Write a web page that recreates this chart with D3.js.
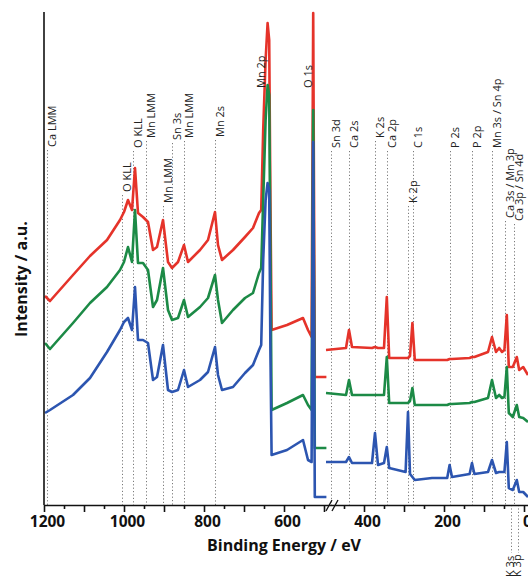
<!DOCTYPE html>
<html>
<head>
<meta charset="utf-8">
<script src="https://cdn.jsdelivr.net/npm/d3@7"></script>
<style>
  body { margin: 0; background: #fff; }
  svg { display: block; }
</style>
</head>
<body>
<div id="chart"></div>
<script>
// -------------------------------------------------------------
// Survey spectra (binding energy in eV, intensity in a.u.)
// two measured windows, split by the axis break near 485 eV
// -------------------------------------------------------------
const leftEnergy = [1197.5, 1185, 1127.5, 1085, 1042.5, 1010, 1000, 990, 980, 972.5,
  965, 952.5, 940, 927.5, 917.5, 902.5, 890, 880, 865, 850,
  840, 810, 790, 772.5, 765, 755, 727.5, 697.5, 677.5, 662.5,
  657, 652, 646, 641, 637, 634, 631, 592.5, 552.5, 540,
  531, 527, 523, 494];

const leftRed = [209, 204, 230, 249, 265, 285, 293, 305, 295, 337,
  292, 288, 283, 255, 258, 285, 243, 237, 243, 260,
  243, 255, 265, 293, 260, 245, 255, 268, 277, 292,
  295, 375, 445, 482, 465, 305, 175, 180, 187, 175,
  168, 492, 128, 128];

const leftGreen = [162, 156, 182, 202, 218, 235, 243, 258, 243, 295,
  242, 242, 235, 198, 205, 237, 195, 185, 187, 205,
  188, 198, 207, 230, 205, 182, 195, 207, 212, 232,
  237, 305, 385, 420, 410, 255, 95, 102, 110, 100,
  95, 395, 57, 57];

const leftBlue = [92, 95, 110, 127, 153, 175, 183, 187, 175, 218,
  165, 165, 162, 125, 128, 160, 115, 113, 115, 135,
  118, 125, 133, 158, 130, 115, 118, 132, 140, 155,
  160, 245, 305, 322, 315, 155, 50, 55, 65, 45,
  43, 363, 8, 8];

const rightEnergy = [495, 445, 437.5, 430, 380, 372.5, 365, 350, 343, 337,
  296, 290, 285, 279, 273, 230, 192, 186, 180, 136,
  130, 124, 90, 80, 70, 62, 55, 49, 43, 38,
  28, 18, 12, 2, -10];

const rightRed = [155, 157, 175, 158, 157, 158, 157, 157, 208, 147,
  147, 147, 149, 182, 145, 145, 145, 146, 146, 147,
  148, 148, 153, 168, 153, 157, 153, 155, 190, 138,
  138, 148, 135, 138, 130];

const rightGreen = [112, 110, 125, 110, 110, 110, 110, 110, 148, 102,
  102, 102, 104, 117, 100, 100, 100, 101, 101, 102,
  103, 103, 107, 125, 107, 110, 107, 108, 138, 92,
  88, 100, 88, 87, 83];

const rightBlue = [43, 43, 48, 42, 42, 72, 40, 42, 58, 37,
  33, 93, 31, 28, 25, 27, 27, 40, 28, 31,
  42, 31, 33, 45, 32, 33, 33, 33, 63, 17,
  15, 25, 13, 13, 8];

// -------------------------------------------------------------
// Peak assignments
// -------------------------------------------------------------
const peakNames = ["Ca LMM", "O KLL", "O KLL", "Mn LMM", "Mn LMM", "Sn 3s", "Mn LMM", "Mn 2s",
  "Mn 2p", "O 1s", "Sn 3d", "Ca 2s", "K 2s", "Ca 2p", "K 2p", "C 1s", "P 2s", "P 2p",
  "Mn 3s / Sn 4p", "Ca 3s / Mn 3p", "Ca 3p / Sn 4d", "K 3s", "K 3p"];
const peakEnergy = [1192.5, 1005, 977.5, 945, 902.5, 880, 850, 772.5,
  670, 552.5, 482, 437.5, 372.5, 342.5, 290, 277.5, 185, 130,
  80, 47.5, 25, 32.5, 15];

// layout of the annotations (pixels): where each label starts, whether it
// has a dotted guide, and whether it sits under the axis
const labelStartY = [147, 192, 148, 138, 203, 140, 138, 137,
  88, 88, 148, 148, 138, 148, 203, 148, 148, 148,
  148, 218, 221, 577, 577];
const hasGuide = peakNames.map((d, i) => i !== 8 && i !== 9);
const isBelow = peakNames.map((d, i) => i >= 21);

const majorTicks = [1200, 1100, 1000, 900, 800, 700, 600, 500, 400, 300, 200, 100, 0];
const tickLabels = ["1200", "1000", "800", "600", "400", "200", "0"];
const minorTicks = d3.range(1150, -1, -100);
const axisBreakEnergy = 485;

const series = [
  { name: "red",   color: "#e5332a", left: leftRed,   right: rightRed },
  { name: "green", color: "#1c8a46", left: leftGreen, right: rightGreen },
  { name: "blue",  color: "#2c55b0", left: leftBlue,  right: rightBlue }
];

// -------------------------------------------------------------
// Chart
// -------------------------------------------------------------
const width = 528, height = 577;
const axisY = 505;

const svg = d3.select("#chart").append("svg")
  .attr("width", width)
  .attr("height", height);

const x = d3.scaleLinear().domain([1200, -10]).range([44, 528]);
const y = d3.scaleLinear().domain([0, 493]).range([axisY, 12]);

const font = "'Open Sans', 'Noto Sans', sans-serif";

// dotted guides
const guides = svg.append("g");
peakNames.forEach((name, i) => {
  if (!hasGuide[i]) return;
  const gx = Math.round(x(peakEnergy[i])) + 0.5;
  const y1 = isBelow[i] ? axisY : labelStartY[i] + 3;
  const y2 = isBelow[i] ? 553 : axisY;
  guides.append("line")
    .attr("x1", gx).attr("x2", gx)
    .attr("y1", y1).attr("y2", y2)
    .attr("stroke", "#7a7a7a")
    .attr("stroke-width", 1)
    .attr("stroke-dasharray", "1.2 2.2");
});

// spectra
const line = d3.line()
  .x(d => x(d[0]))
  .y(d => y(d[1]));

const curves = svg.append("g");
series.forEach(s => {
  [[leftEnergy, s.left], [rightEnergy, s.right]].forEach(([en, vals]) => {
    curves.append("path")
      .datum(en.map((e, i) => [e, vals[i]]))
      .attr("d", line)
      .attr("fill", "none")
      .attr("stroke", s.color)
      .attr("stroke-width", 2.6)
      .attr("stroke-linejoin", "round");
  });
});

// y axis (no ticks)
svg.append("line")
  .attr("x1", 44).attr("x2", 44)
  .attr("y1", 12).attr("y2", axisY)
  .attr("stroke", "#111")
  .attr("stroke-width", 1.6);

// x axis: minor ticks then major ticks with labels
const minorAxis = svg.append("g")
  .attr("transform", `translate(0,${axisY})`)
  .call(d3.axisBottom(x).tickValues(minorTicks).tickSize(4).tickFormat(""));
minorAxis.select(".domain").remove();

const majorAxis = svg.append("g")
  .attr("transform", `translate(0,${axisY})`)
  .call(d3.axisBottom(x).tickValues(majorTicks).tickSize(7).tickSizeOuter(0)
    .tickFormat(d => tickLabels.includes(String(d)) ? String(d) : ""));

svg.selectAll(".tick line").attr("stroke", "#111").attr("stroke-width", 1.6);
majorAxis.select(".domain").attr("stroke", "#111").attr("stroke-width", 1.6);
majorAxis.selectAll(".tick text")
  .attr("y", 11)
  .attr("dx", 3)
  .style("font-family", font)
  .style("font-weight", "bold")
  .style("font-size", "15.5px")
  .attr("fill", "#111");

// axis break
const bx = x(axisBreakEnergy);
[0, 6].forEach(off => {
  svg.append("line")
    .attr("x1", bx - 4 + off).attr("y1", axisY + 6)
    .attr("x2", bx + 2 + off).attr("y2", axisY - 5)
    .attr("stroke", "#111")
    .attr("stroke-width", 1.3);
});

// peak labels
const labels = svg.append("g")
  .style("font-family", font)
  .style("font-size", "11px")
  .attr("fill", "#222");
peakNames.forEach((name, i) => {
  const lx = Math.round(x(peakEnergy[i])) + (isBelow[i] ? 3 : 9);
  labels.append("text")
    .attr("transform", `translate(${lx},${labelStartY[i]}) rotate(-90)`)
    .attr("text-anchor", "start")
    .text(name);
});

// axis titles
svg.append("text")
  .attr("x", 284)
  .attr("y", 551)
  .attr("text-anchor", "middle")
  .style("font-family", font)
  .style("font-weight", "bold")
  .style("font-size", "16px")
  .attr("fill", "#111")
  .text("Binding Energy / eV");

svg.append("text")
  .attr("transform", "translate(27,279) rotate(-90)")
  .attr("text-anchor", "middle")
  .style("font-family", font)
  .style("font-weight", "bold")
  .style("font-size", "16px")
  .attr("fill", "#111")
  .text("Intensity / a.u.");
</script>
</body>
</html>
